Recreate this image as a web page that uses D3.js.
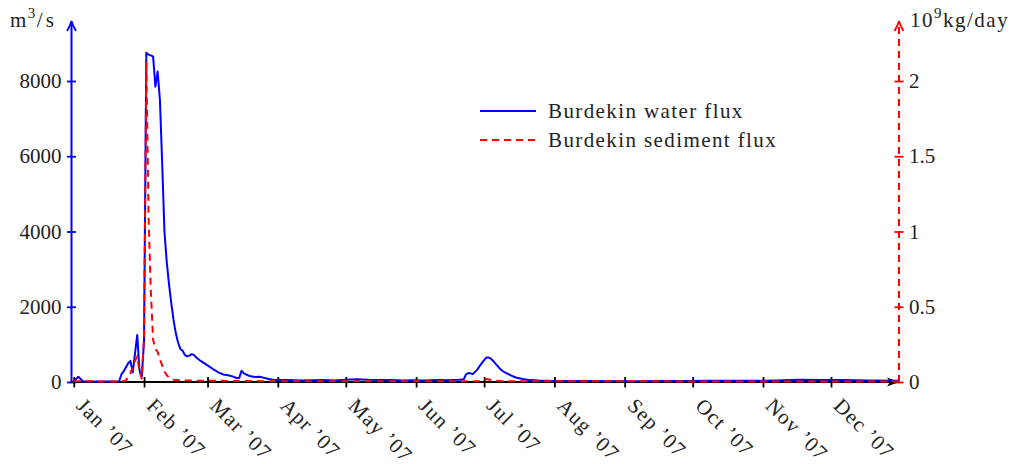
<!DOCTYPE html>
<html lang="en">
<head>
<meta charset="UTF-8">
<title>Burdekin water and sediment flux 2007</title>
<script src="https://d3js.org/d3.v7.min.js"></script>
<style>
  body { margin: 0; background: #fff; }
  svg text { font-family: "Liberation Serif", "DejaVu Serif", serif; font-size: 21px; fill: #222; }
</style>
</head>
<body>
<svg width="1015" height="464"></svg>
<script>
// daily readings (date, value) taken off the plot
const waterDates = ["2007-01-01","2007-01-03","2007-01-05","2007-01-09","2007-01-15","2007-01-21","2007-01-22","2007-01-23",
  "2007-01-25","2007-01-26","2007-01-27","2007-01-29","2007-01-30","2007-01-31","2007-02-01","2007-02-02","2007-02-03",
  "2007-02-04","2007-02-05","2007-02-06","2007-02-07","2007-02-08","2007-02-09","2007-02-10","2007-02-11","2007-02-12",
  "2007-02-13","2007-02-14","2007-02-15","2007-02-16","2007-02-17","2007-02-18","2007-02-19","2007-02-20","2007-02-21",
  "2007-02-22","2007-02-23","2007-02-24","2007-02-26","2007-02-28","2007-03-02","2007-03-04","2007-03-06","2007-03-08",
  "2007-03-10","2007-03-12","2007-03-14","2007-03-15","2007-03-16","2007-03-17","2007-03-18","2007-03-20","2007-03-22",
  "2007-03-24","2007-03-26","2007-03-28","2007-03-30","2007-04-01","2007-04-06","2007-04-11","2007-04-16","2007-04-21",
  "2007-04-26","2007-05-01","2007-05-06","2007-05-11","2007-05-16","2007-05-21","2007-05-26","2007-05-31","2007-06-05",
  "2007-06-10","2007-06-15","2007-06-20","2007-06-22","2007-06-23","2007-06-24","2007-06-25","2007-06-26","2007-06-27",
  "2007-06-28","2007-06-29","2007-06-30","2007-07-01","2007-07-02","2007-07-03","2007-07-04","2007-07-05","2007-07-06",
  "2007-07-07","2007-07-08","2007-07-09","2007-07-10","2007-07-11","2007-07-13","2007-07-15","2007-07-18","2007-07-20",
  "2007-07-25","2007-07-30","2007-08-09","2007-08-19","2007-08-29","2007-09-08","2007-09-18","2007-09-28","2007-10-08",
  "2007-10-18","2007-10-28","2007-11-07","2007-11-17","2007-11-27","2007-12-07","2007-12-17","2007-12-31"];
const waterValues = [20,140,20,10,10,20,200,280,
  500,560,250,1250,300,150,1100,8750,8700,
  8680,8650,7850,8250,7500,5800,4000,3200,2600,
  2100,1650,1300,1050,880,830,720,680,700,
  740,720,650,560,480,400,320,250,200,
  180,150,100,110,300,230,200,150,130,
  140,110,80,60,50,50,40,45,50,
  40,60,75,60,55,50,40,45,40,
  50,45,60,70,200,240,230,210,270,
  330,420,500,580,650,650,620,560,490,
  420,350,300,260,230,170,120,80,60,
  40,30,25,25,20,20,25,25,30,
  35,30,40,60,55,50,40,30];

const sedimentDates = ["2007-01-01","2007-01-21","2007-01-24","2007-01-26","2007-01-28","2007-01-29","2007-01-30","2007-01-31",
  "2007-02-01","2007-02-02","2007-02-03","2007-02-04","2007-02-05","2007-02-06","2007-02-07","2007-02-08","2007-02-09",
  "2007-02-10","2007-02-11","2007-02-12","2007-02-14","2007-02-18","2007-03-02","2007-04-01","2007-06-30","2007-07-02",
  "2007-07-05","2007-07-10","2007-12-31"];
const sedimentValues = [0.005,0.003,0.01,0.06,0.14,0.17,0.07,0.02,
  0.3,2.13,1.1,0.6,0.28,0.22,0.2,0.15,0.11,
  0.07,0.045,0.03,0.015,0.01,0.008,0.005,0.005,0.02,
  0.01,0.005,0.003];

const waterTicks = [0, 2000, 4000, 6000, 8000];
const sedimentTicks = [0, 0.5, 1, 1.5, 2];
const seriesNames = ["Burdekin water flux", "Burdekin sediment flux"];

const parse = d3.timeParse("%Y-%m-%d");
const water = waterDates.map((d, i) => ({ date: parse(d), value: waterValues[i] }));
const sediment = sedimentDates.map((d, i) => ({ date: parse(d), value: sedimentValues[i] }));

const svg = d3.select("svg");
const xLeft = 71.5, xRight = 899, yBottom = 382, yTop = 81, yTip = 21;

const x = d3.scaleTime()
  .domain([parse("2006-12-31"), parse("2007-12-31")])
  .range([xLeft, xRight]);
const yW = d3.scaleLinear().domain([0, 8000]).range([yBottom, yTop]);
const yS = d3.scaleLinear().domain([0, 2]).range([yBottom, yTop]);

const dash = "7,5";

// left axis (water)
svg.append("line")
  .attr("x1", xLeft).attr("x2", xLeft).attr("y1", yBottom).attr("y2", yTip + 1)
  .attr("stroke", "blue").attr("stroke-width", 2);
svg.append("path")
  .attr("d", `M${xLeft - 4.5},${yTip + 10} Q${xLeft - 1},${yTip + 4} ${xLeft},${yTip} Q${xLeft + 1},${yTip + 4} ${xLeft + 4.5},${yTip + 10}`)
  .attr("fill", "none").attr("stroke", "blue").attr("stroke-width", 1.8);
const gl = svg.append("g")
  .attr("transform", `translate(${xLeft},0)`)
  .call(d3.axisLeft(yW).tickValues(waterTicks).tickFormat(d3.format("d")).tickSize(4.5).tickPadding(7));
gl.select(".domain").remove();
gl.selectAll(".tick line").attr("x2", 4.5).attr("x1", -4.5).attr("stroke", "blue").attr("stroke-width", 1.8);
gl.selectAll(".tick text").attr("x", -10);
gl.attr("font-size", null).attr("font-family", null);

// right axis (sediment)
svg.append("line")
  .attr("x1", xRight).attr("x2", xRight).attr("y1", yBottom).attr("y2", yTip + 1)
  .attr("stroke", "red").attr("stroke-width", 2).attr("stroke-dasharray", dash);
svg.append("path")
  .attr("d", `M${xRight - 4.5},${yTip + 10} Q${xRight - 1},${yTip + 4} ${xRight},${yTip} Q${xRight + 1},${yTip + 4} ${xRight + 4.5},${yTip + 10}`)
  .attr("fill", "none").attr("stroke", "red").attr("stroke-width", 1.8);
const gr = svg.append("g")
  .attr("transform", `translate(${xRight},0)`)
  .call(d3.axisRight(yS).tickValues(sedimentTicks).tickFormat(d => d).tickSize(4.5).tickPadding(7));
gr.select(".domain").remove();
gr.selectAll(".tick line").attr("x1", -4.5).attr("x2", 4.5).attr("stroke", "red").attr("stroke-width", 1.8);
gr.selectAll(".tick text").attr("x", 10);
gr.attr("font-size", null).attr("font-family", null);

// bottom axis
svg.append("line")
  .attr("x1", xLeft).attr("x2", xRight - 6).attr("y1", yBottom).attr("y2", yBottom)
  .attr("stroke", "black").attr("stroke-width", 2);
svg.append("path")
  .attr("d", `M${xRight},${yBottom} L${xRight - 12},${yBottom - 4.5} L${xRight - 9},${yBottom} L${xRight - 12},${yBottom + 4.5} Z`)
  .attr("fill", "black");
const gx = svg.append("g")
  .attr("transform", `translate(0,${yBottom})`)
  .call(d3.axisBottom(x).ticks(d3.timeMonth.every(1)).tickFormat(d3.timeFormat("%b \u2019%y")).tickSize(5));
gx.select(".domain").remove();
gx.attr("font-size", null).attr("font-family", null);
gx.selectAll(".tick line").attr("y1", -5).attr("y2", 5.5).attr("stroke", "black").attr("stroke-width", 1.8);
gx.selectAll(".tick text")
  .attr("y", 0).attr("dy", null)
  .attr("text-anchor", "start")
  .attr("letter-spacing", "1.2px")
  .attr("transform", "translate(1,25) rotate(45)");

// series
const lineW = d3.line().x(d => x(d.date)).y(d => yW(d.value));
const lineS = d3.line().x(d => x(d.date)).y(d => yS(d.value));

svg.append("path").datum(water)
  .attr("d", lineW).attr("fill", "none")
  .attr("stroke", "blue").attr("stroke-width", 2).attr("stroke-linejoin", "round");
svg.append("path").datum(sediment)
  .attr("d", lineS).attr("fill", "none")
  .attr("stroke", "red").attr("stroke-width", 2).attr("stroke-dasharray", dash);

// unit labels
svg.append("text").attr("x", 10).attr("y", 27).attr("letter-spacing", "1.5px")
  .html('m<tspan font-size="15" dy="-9">3</tspan><tspan dy="9" letter-spacing="3px">/s</tspan>');
svg.append("text").attr("x", 910).attr("y", 27).attr("letter-spacing", "1.5px")
  .html('10<tspan font-size="15" dy="-9">9</tspan><tspan dy="9">kg/day</tspan>');

// legend
const legend = svg.append("g").attr("transform", "translate(480,111)");
seriesNames.forEach((name, i) => {
  const row = legend.append("g").attr("transform", `translate(0,${i * 29})`);
  row.append("line").attr("x1", 0).attr("x2", 56).attr("y1", 0).attr("y2", 0)
    .attr("stroke", i === 0 ? "blue" : "red").attr("stroke-width", 2)
    .attr("stroke-dasharray", i === 0 ? null : dash);
  row.append("text").attr("x", 68).attr("y", 0).attr("dy", "0.33em")
    .attr("letter-spacing", "1.4px").text(name);
});
</script>
</body>
</html>
